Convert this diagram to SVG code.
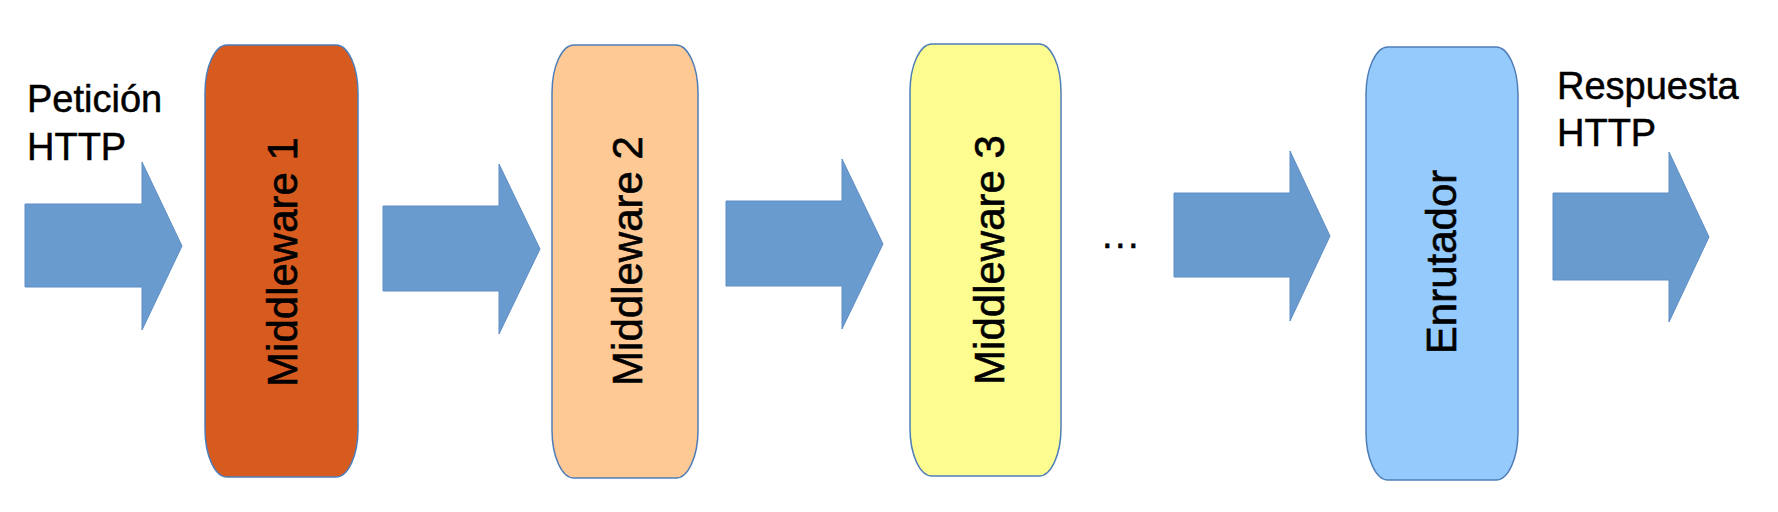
<svg xmlns="http://www.w3.org/2000/svg" width="1778" height="512" viewBox="0 0 1778 512">
<style>
.box{stroke:#4F7DB8;stroke-width:1.5}
.arrow{fill:#6A9BCF;stroke:#5E8EC4;stroke-width:1}
.vt{font-family:"Liberation Sans",Arial,sans-serif;font-size:42px;fill:#000;stroke:#000;stroke-width:0.6;text-anchor:middle}
.lbl{font-family:"Liberation Sans",Arial,sans-serif;font-size:38px;fill:#000;stroke:#000;stroke-width:0.5}
</style>
<rect width="1778" height="512" fill="#fff"/>
<g id="connectors">
<polygon class="arrow" points="25,204 142,204 142,162 182,246 142,330 142,287 25,287"/>
<polygon class="arrow" points="383,206 499,206 499,164 540,249 499,334 499,291 383,291"/>
<polygon class="arrow" points="726,201 842,201 842,159 883,244 842,329 842,286 726,286"/>
<polygon class="arrow" points="1174,193 1290,193 1290,151 1330,236 1290,321 1290,277 1174,277"/>
<polygon class="arrow" points="1553,193 1669,193 1669,152 1709,237 1669,322 1669,280 1553,280"/>
</g>
<g id="input-label">
<text class="lbl" x="27" y="112">Petición</text>
<text class="lbl" x="27" y="160">HTTP</text>
</g>
<g id="middleware1">
<rect class="box" x="205" y="45" width="153" height="432" rx="22" ry="48" fill="#D75A1F"/>
<text class="vt" transform="translate(297,262) rotate(-90)">Middleware 1</text>
</g>
<g id="middleware2">
<rect class="box" x="552" y="45" width="146" height="433" rx="22" ry="48" fill="#FEC994"/>
<text class="vt" transform="translate(642,261) rotate(-90)">Middleware 2</text>
</g>
<g id="middleware3">
<rect class="box" x="910" y="44" width="151" height="432" rx="22" ry="48" fill="#FCFC90"/>
<text class="vt" transform="translate(1004,260) rotate(-90)">Middleware 3</text>
</g>
<g id="ellipsis">
<text class="lbl" x="1102" y="248" letter-spacing="2.4">...</text>
</g>
<g id="enrutador">
<rect class="box" x="1366" y="47" width="152" height="433" rx="22" ry="48" fill="#95CAFC"/>
<text class="vt" transform="translate(1456,262) rotate(-90)">Enrutador</text>
</g>
<g id="output-label">
<text class="lbl" x="1557" y="99">Respuesta</text>
<text class="lbl" x="1557" y="146">HTTP</text>
</g>
</svg>
